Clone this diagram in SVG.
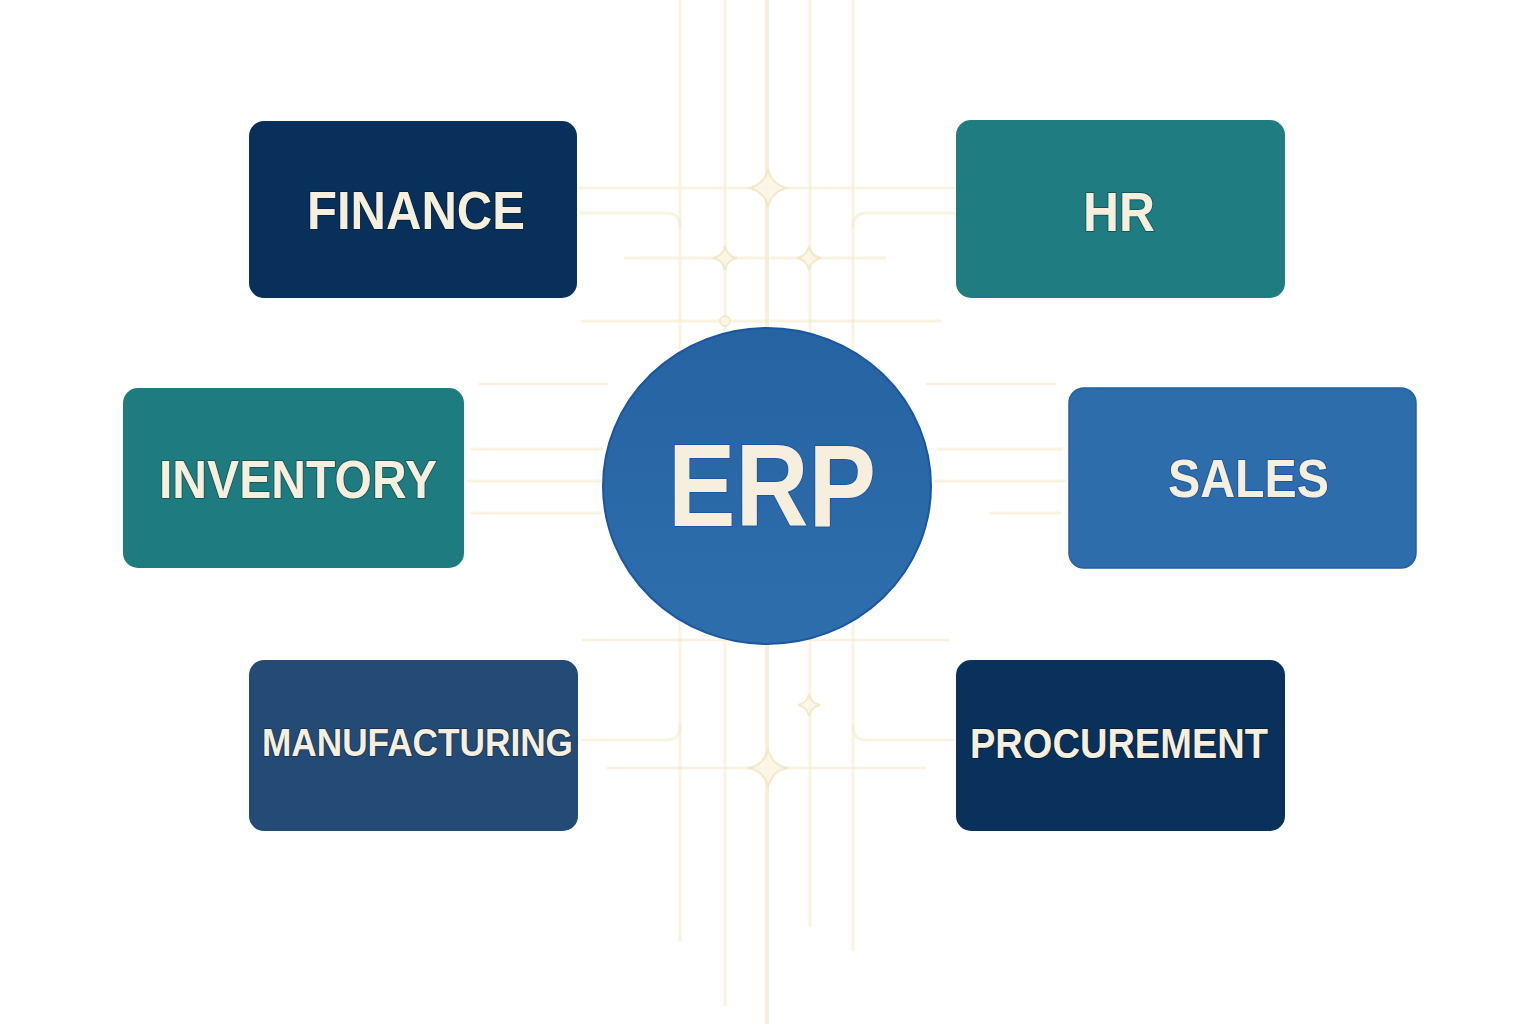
<svg xmlns="http://www.w3.org/2000/svg" width="1536" height="1024" viewBox="0 0 1536 1024">
<defs>
<style>
.grid{fill:none;stroke:#F4EAC9;stroke-width:3;stroke-linecap:round;opacity:0.55}
.gridm{fill:none;stroke:#F4EAC9;stroke-width:4;stroke-linecap:round;opacity:0.7}
.star{fill:#FCF6E4;stroke:#F2E6C2;stroke-width:2;opacity:0.85}
.lbl{font-family:"Liberation Sans",Arial,sans-serif;font-weight:700;fill:#F7EFDD;text-anchor:middle;paint-order:stroke;stroke-width:2;stroke-linejoin:round}
</style>
<linearGradient id="erpg" x1="0" y1="0" x2="0" y2="1">
<stop offset="0" stop-color="#2563A3"/>
<stop offset="1" stop-color="#2F6EAD"/>
</linearGradient>
</defs>
<rect width="1536" height="1024" fill="#FFFFFF"/>

<g id="connectors">
<line class="grid" x1="680" y1="0" x2="680" y2="940"/>
<line class="grid" x1="725" y1="0" x2="725" y2="1005"/>
<line class="gridm" x1="767" y1="0" x2="767" y2="1024"/>
<line class="grid" x1="810" y1="0" x2="810" y2="925"/>
<line class="grid" x1="853" y1="0" x2="853" y2="950"/>

<line class="grid" x1="580" y1="188" x2="954" y2="188"/>
<path class="grid" d="M580 213 H666 Q680 213 680 227"/>
<path class="grid" d="M954 213 H867 Q853 213 853 227"/>
<line class="grid" x1="625" y1="258" x2="885" y2="258"/>
<line class="grid" x1="582" y1="321" x2="940" y2="321"/>

<line class="grid" x1="480" y1="384" x2="607" y2="384"/>
<line class="grid" x1="472" y1="449" x2="602" y2="449"/>
<line class="grid" x1="468" y1="481" x2="602" y2="481"/>
<line class="grid" x1="472" y1="513" x2="600" y2="513"/>
<line class="grid" x1="927" y1="384" x2="1055" y2="384"/>
<line class="grid" x1="938" y1="449" x2="1062" y2="449"/>
<line class="grid" x1="935" y1="481" x2="1065" y2="481"/>
<line class="grid" x1="990" y1="513" x2="1060" y2="513"/>

<line class="grid" x1="583" y1="640" x2="948" y2="640"/>
<path class="grid" d="M583 740 H666 Q680 740 680 726"/>
<path class="grid" d="M953 740 H867 Q853 740 853 726"/>
<line class="grid" x1="608" y1="768" x2="925" y2="768"/>

<path class="star" d="M768 170 Q772 184 786 188 Q772 192 768 206 Q764 192 750 188 Q764 184 768 170 Z"/>
<path class="star" d="M725 246 Q727 256 737 258 Q727 260 725 270 Q723 260 713 258 Q723 256 725 246 Z"/>
<path class="star" d="M809 246 Q811 256 821 258 Q811 260 809 270 Q807 260 797 258 Q807 256 809 246 Z"/>
<circle class="star" cx="725" cy="321" r="5"/>
<path class="star" d="M809 694 Q811 703 820 705 Q811 707 809 716 Q807 707 798 705 Q807 703 809 694 Z"/>
<path class="star" d="M768 750 Q772 764 786 768 Q772 772 768 786 Q764 772 750 768 Q764 764 768 750 Z"/>
</g>

<g id="node-finance">
<rect x="249" y="121" width="328" height="177" rx="15" fill="#08305A"/>
<text class="lbl" x="416" y="229" font-size="54" textLength="218" lengthAdjust="spacingAndGlyphs" stroke="#04213F">FINANCE</text>
</g>
<g id="node-hr">
<rect x="956" y="120" width="329" height="178" rx="15" fill="#1F7D82"/>
<text class="lbl" x="1119" y="231" font-size="56" textLength="72" lengthAdjust="spacingAndGlyphs" stroke="#13575B">HR</text>
</g>
<g id="node-inventory">
<rect x="123" y="388" width="341" height="180" rx="15" fill="#1E7B80"/>
<text class="lbl" x="298" y="498" font-size="54" textLength="278" lengthAdjust="spacingAndGlyphs" stroke="#13575B">INVENTORY</text>
</g>
<g id="node-erp">
<ellipse cx="767" cy="486" rx="164" ry="158" fill="url(#erpg)" stroke="#1C55A0" stroke-width="2"/>
<text class="lbl" x="772" y="526" font-size="116" textLength="208" lengthAdjust="spacingAndGlyphs" stroke="#1C55A0">ERP</text>
</g>
<g id="node-sales">
<rect x="1069" y="388" width="347" height="180" rx="15" fill="#2E6DAB" stroke="#2460A0" stroke-width="1.5"/>
<text class="lbl" x="1248.5" y="497" font-size="54" textLength="161" lengthAdjust="spacingAndGlyphs" stroke="#1C55A0">SALES</text>
</g>
<g id="node-manufacturing">
<rect x="249" y="660" width="329" height="171" rx="15" fill="#244B76"/>
<text class="lbl" x="417.5" y="756" font-size="39" textLength="311" lengthAdjust="spacingAndGlyphs" stroke="#17355A">MANUFACTURING</text>
</g>
<g id="node-procurement">
<rect x="956" y="660" width="329" height="171" rx="15" fill="#0A305C"/>
<text class="lbl" x="1119" y="758" font-size="42" textLength="298" lengthAdjust="spacingAndGlyphs" stroke="#04213F">PROCUREMENT</text>
</g>
</svg>
